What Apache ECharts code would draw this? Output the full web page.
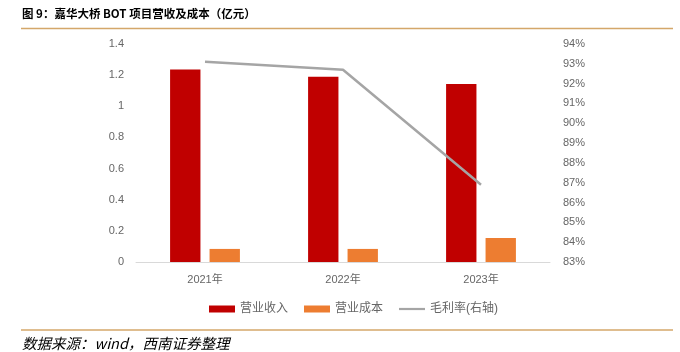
<!DOCTYPE html>
<html>
<head>
<meta charset="utf-8">
<script src="https://cdn.jsdelivr.net/npm/echarts@6/dist/echarts.min.js"></script>
<style>
  html, body { margin: 0; padding: 0; background: #fff; }
  #chart { width: 680px; height: 352px; }
</style>
</head>
<body>
<div id="chart"></div>
<script>
// 数据
const years = ['2021年', '2022年', '2023年'];
const revenue = [1.237, 1.19, 1.143];   // 营业收入（亿元）
const cost = [0.084, 0.084, 0.154];     // 营业成本（亿元）
const margin = [93.1, 92.7, 86.9];      // 毛利率（%）

const FONT = '"Liberation Sans", "Noto Sans CJK SC", sans-serif';
const gold = '#D4A76A';
const txt = '#666666';

const chart = echarts.init(document.getElementById('chart'));

const option = {
  backgroundColor: '#fff',
  textStyle: { fontFamily: FONT },
  grid: {
    left: 136,
    right: 130,
    top: 44,
    bottom: 90,
    containLabel: false
  },
  legend: {
    bottom: 32,
    left: 204,
    itemWidth: 26,
    itemHeight: 7,
    itemGap: 16,
    textStyle: { color: txt, fontSize: 12, fontFamily: FONT },
    data: [
      { name: '营业收入', icon: 'rect' },
      { name: '营业成本', icon: 'rect' },
      // 细线图标
      { name: '毛利率(右轴)', icon: 'path://M0,0L0,0M0,2.4L26,2.4L26,4.6L0,4.6ZM0,7L0,7' }
    ]
  },
  xAxis: {
    type: 'category',
    data: years,
    axisTick: { show: false },
    axisLine: { lineStyle: { color: '#D9D9D9', width: 1 } },
    axisLabel: { color: txt, fontSize: 11, margin: 12, fontFamily: FONT }
  },
  yAxis: [
    {
      type: 'value',
      min: 0,
      max: 1.4,
      interval: 0.2,
      splitLine: { show: false },
      axisLine: { show: false },
      axisTick: { show: false },
      axisLabel: { color: txt, fontSize: 11, margin: 12, fontFamily: FONT }
    },
    {
      type: 'value',
      min: 83,
      max: 94,
      interval: 1,
      splitLine: { show: false },
      axisLine: { show: false },
      axisTick: { show: false },
      axisLabel: { color: txt, fontSize: 11, margin: 13, formatter: '{value}%', fontFamily: FONT }
    }
  ],
  series: [
    {
      name: '营业收入',
      type: 'bar',
      data: revenue,
      barWidth: '22%',
      barGap: '30%',
      itemStyle: { color: '#C00000' }
    },
    {
      name: '营业成本',
      type: 'bar',
      data: cost,
      barWidth: '22%',
      itemStyle: { color: '#ED7D31' }
    },
    {
      name: '毛利率(右轴)',
      type: 'line',
      yAxisIndex: 1,
      data: margin,
      symbol: 'none',
      lineStyle: { color: '#A5A5A5', width: 2.5 },
      itemStyle: { color: '#A5A5A5' }
    }
  ],
  graphic: [
    {
      type: 'text',
      left: 22,
      top: 8,
      style: {
        text: '图 9：嘉华大桥 BOT 项目营收及成本（亿元）',
        fontSize: 11.5,
        fontWeight: 'bold',
        fill: '#000',
        fontFamily: '"Noto Sans CJK SC", sans-serif'
      }
    },
    {
      type: 'line',
      shape: { x1: 21, y1: 28.5, x2: 673, y2: 28.5 },
      style: { stroke: gold, lineWidth: 1.5 }
    },
    {
      type: 'line',
      shape: { x1: 21, y1: 330, x2: 673, y2: 330 },
      style: { stroke: gold, lineWidth: 1.5 }
    },
    {
      type: 'text',
      left: 22,
      top: 336,
      style: {
        text: '数据来源：wind，西南证券整理',
        fontSize: 14.5,
        fontStyle: 'italic',
        fill: '#000',
        fontFamily: '"Noto Sans CJK SC", sans-serif'
      }
    }
  ]
};

chart.setOption(option);
</script>
</body>
</html>
